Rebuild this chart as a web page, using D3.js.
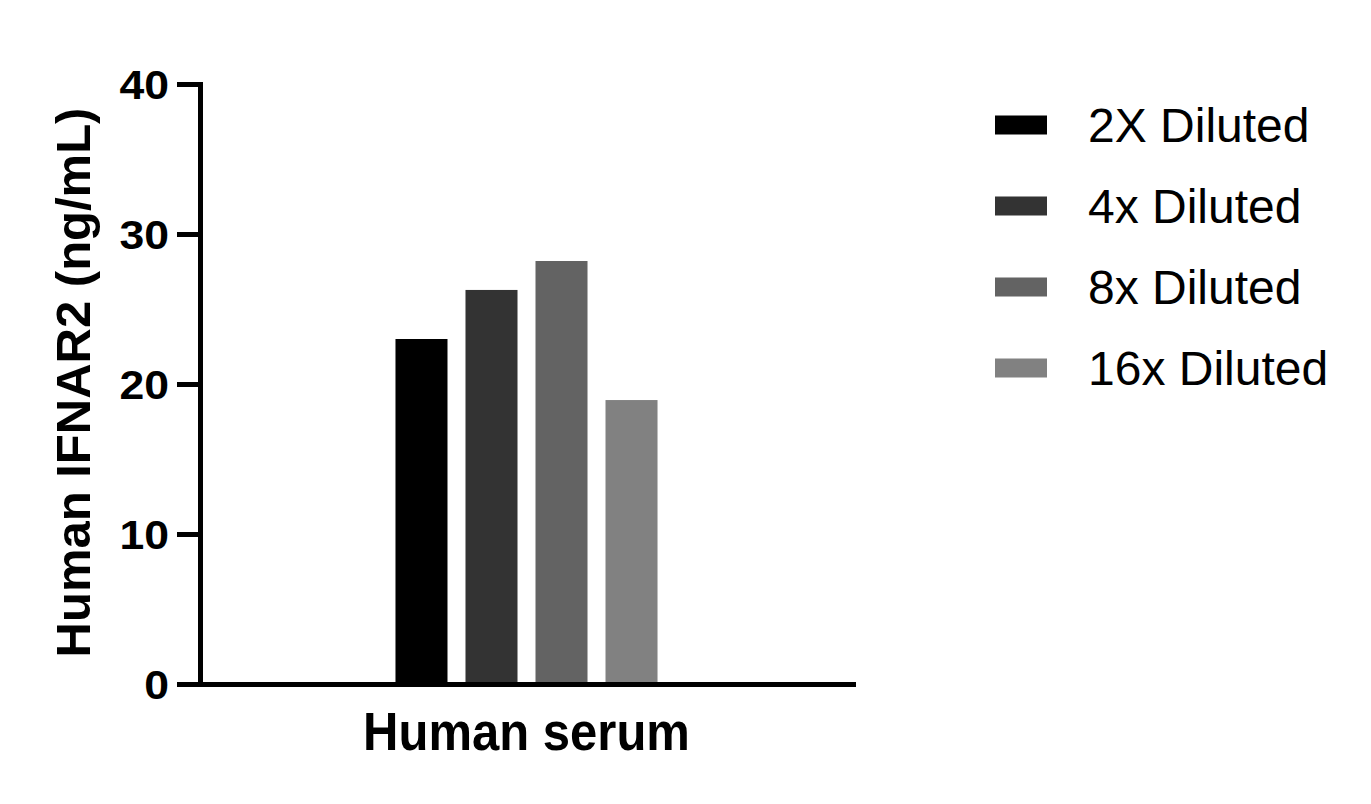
<!DOCTYPE html>
<html>
<head>
<meta charset="utf-8">
<script src="https://cdn.jsdelivr.net/npm/d3@7"></script>
<style>
  html, body { margin: 0; padding: 0; background: #fff; }
  svg { display: block; font-family: "Liberation Sans", Arial, sans-serif; }
</style>
</head>
<body>
<svg id="chart" width="1371" height="804"></svg>
<script>
const categories = ["Human serum"];
const seriesNames = ["2X Diluted", "4x Diluted", "8x Diluted", "16x Diluted"];
const seriesValues = [23.0, 26.27, 28.2, 18.93];
const seriesColors = ["#000000", "#333333", "#636363", "#818181"];
const yTicks = [0, 10, 20, 30, 40];
const yTitle = "Human IFNAR2 (ng/mL)";

const svg = d3.select("#chart");

const y = d3.scaleLinear().domain([0, 40]).range([684, 84]);
const x0 = d3.scaleBand().domain(categories).range([200, 853]).paddingInner(0).paddingOuter(0.746);
const x1 = d3.scaleBand().domain(seriesNames).range([0, x0.bandwidth()]).paddingInner(0.257).paddingOuter(0);

// bars
const g = svg.append("g");
categories.forEach(cat => {
  g.selectAll("rect.bar")
    .data(seriesNames.map((s, i) => ({ s, v: seriesValues[i], c: seriesColors[i] })))
    .enter().append("rect")
    .attr("class", "bar")
    .attr("x", d => x0(cat) + x1(d.s))
    .attr("width", x1.bandwidth())
    .attr("y", d => y(d.v))
    .attr("height", d => y(0) - y(d.v))
    .attr("fill", d => d.c);
});

// y axis
const yAxis = svg.append("g")
  .attr("transform", "translate(200,0)")
  .call(d3.axisLeft(y).tickValues(yTicks).tickSize(23).tickSizeOuter(0).tickPadding(0));
yAxis.select(".domain").attr("stroke", "#000").attr("stroke-width", 5).attr("stroke-linecap", "square");
yAxis.selectAll(".tick line").attr("stroke", "#000").attr("stroke-width", 5);
yAxis.selectAll(".tick text")
  .attr("x", null).attr("dy", null)
  .attr("transform", "translate(-31,14) scale(1.1,1)")
  .attr("text-anchor", "end")
  .attr("fill", "#000")
  .style("font-size", "40.5px")
  .style("font-weight", "bold")
  .style("font-family", "'Liberation Sans', Arial, sans-serif");

// x axis
const xAxis = svg.append("g")
  .attr("transform", "translate(0,684)")
  .call(d3.axisBottom(x0).tickSize(0).tickSizeOuter(0));
xAxis.select(".domain").attr("stroke", "#000").attr("stroke-width", 5).attr("stroke-linecap", "square");
xAxis.selectAll(".tick text")
  .attr("y", null).attr("dy", null)
  .attr("transform", "translate(0,66) scale(0.925,1)")
  .attr("text-anchor", "middle")
  .attr("fill", "#000")
  .style("font-size", "53px")
  .style("font-weight", "bold")
  .style("font-family", "'Liberation Sans', Arial, sans-serif");

// y title
svg.append("text")
  .attr("transform", "translate(90,382.5) rotate(-90)")
  .attr("text-anchor", "middle")
  .style("font-size", "49px")
  .style("font-weight", "bold")
  .attr("fill", "#000")
  .text(yTitle);

// legend
const legendY = d3.scalePoint().domain(seriesNames).range([125, 368]);
const leg = svg.append("g");
seriesNames.forEach((s, i) => {
  leg.append("rect")
    .attr("x", 995).attr("width", 52)
    .attr("y", legendY(s) - 9.5).attr("height", 19)
    .attr("fill", seriesColors[i]);
  leg.append("text")
    .attr("x", 1088).attr("y", legendY(s) + 17)
    .style("font-size", "48px")
    .attr("fill", "#000")
    .text(s);
});
</script>
</body>
</html>
